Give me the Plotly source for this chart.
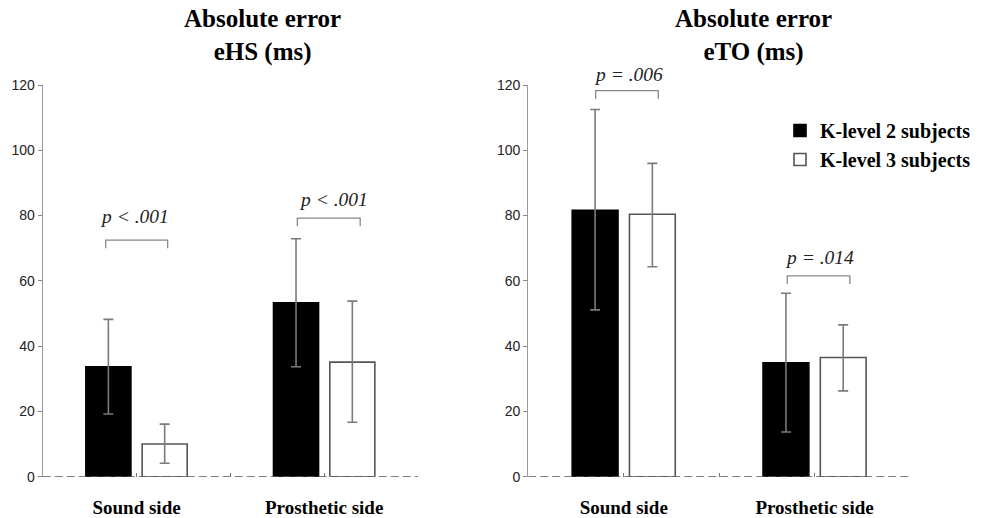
import numpy as np
import plotly.graph_objects as go

# ---------------- data ----------------
categories = ["Sound side", "Prosthetic side"]
series_names = ["K-level 2 subjects", "K-level 3 subjects"]

# eHS (left panel): mean, upper end of error bar, lower end of error bar
ehs_k2 = [33.7, 53.3]
ehs_k2_hi = [48.2, 72.9]
ehs_k2_lo = [19.2, 33.7]
ehs_k3 = [10.0, 35.1]
ehs_k3_hi = [16.1, 53.8]
ehs_k3_lo = [4.1, 16.7]

# eTO (right panel)
eto_k2 = [81.6, 34.9]
eto_k2_hi = [112.5, 56.2]
eto_k2_lo = [51.1, 13.7]
eto_k3 = [80.4, 36.5]
eto_k3_hi = [96.0, 46.5]
eto_k3_lo = [64.3, 26.3]

panel_titles = ["Absolute error<br>eHS (ms)", "Absolute error<br>eTO (ms)"]
y_ticks = [0, 20, 40, 60, 80, 100, 120]

# significance brackets: panel, x start, x end, bracket top, text, text y
brackets_panel = [1, 1, 2, 2]
brackets_x0 = [0.836, 1.857, 0.853, 1.857]
brackets_x1 = [1.166, 2.192, 1.181, 2.185]
brackets_top = [72.5, 79.2, 118.3, 61.5]
brackets_text = ["p < .001", "p < .001", "p = .006", "p = .014"]
brackets_text_x = [0.99, 2.049, 1.027, 2.028]
brackets_text_y = [79.6, 85.0, 123.3, 67.2]

# ---------------- figure ----------------
x_pos = [1, 2]
fig = go.Figure()

SERIF = "Liberation Serif"
SANS = "Liberation Sans"
ERR_COL = "#7a7a7a"

def add_bar(name, vals, hi, lo, xa, ya, fill, line, show):
    vals = np.array(vals)
    fig.add_trace(go.Bar(
        x=x_pos, y=vals, name=name, xaxis=xa, yaxis=ya,
        marker=dict(color=fill, line=dict(color=line, width=1.6)),
        error_y=dict(type="data", symmetric=False,
                     array=np.array(hi) - vals, arrayminus=vals - np.array(lo),
                     color=ERR_COL, thickness=1.6, width=5),
        showlegend=show, legendgroup=name, offsetgroup=name,
    ))

add_bar(series_names[0], ehs_k2, ehs_k2_hi, ehs_k2_lo, "x", "y", "black", "black", True)
add_bar(series_names[1], ehs_k3, ehs_k3_hi, ehs_k3_lo, "x", "y", "white", "#555555", True)
add_bar(series_names[0], eto_k2, eto_k2_hi, eto_k2_lo, "x2", "y2", "black", "black", False)
add_bar(series_names[1], eto_k3, eto_k3_hi, eto_k3_lo, "x2", "y2", "white", "#555555", False)

W, H = 986, 518
xdom = [[42.7 / W, 418 / W], [528.3 / W, 910 / W]]
ydom = [(H - 476.7) / H, (H - 85) / H]
Y_MAX = 120

xaxis_common = dict(
    range=[0.5, 2.5], tickvals=[1, 1.5, 2, 2.5],
    ticktext=["Sound side", "", "Prosthetic side", ""],
    ticks="inside", ticklen=4, tickcolor="#777777", tickwidth=1,
    showline=False, showgrid=False, zeroline=False, automargin=False,
    tickfont=dict(family=SERIF, size=19, color="black", weight="bold"),
    ticklabelstandoff=17, fixedrange=True,
)
yaxis_common = dict(
    range=[0, Y_MAX], tickvals=y_ticks, ticks="outside", ticklen=4,
    tickcolor="#888888", tickwidth=1.2,
    showline=True, linecolor="#999999", linewidth=1.3,
    showgrid=False, zeroline=False, automargin=False,
    tickfont=dict(family=SANS, size=14, color="#222222"), fixedrange=True,
)

fig.update_layout(
    width=W, height=H, margin=dict(l=0, r=0, t=0, b=0, autoexpand=False),
    paper_bgcolor="white", plot_bgcolor="white",
    barmode="group", bargap=0.4, bargroupgap=0.2,
    xaxis=dict(domain=xdom[0], anchor="y", **xaxis_common),
    yaxis=dict(domain=ydom, anchor="x", **yaxis_common),
    xaxis2=dict(domain=xdom[1], anchor="y2", **xaxis_common),
    yaxis2=dict(domain=ydom, anchor="x2", **yaxis_common),
    legend=dict(x=780 / W, y=(H - 111) / H, xanchor="left", yanchor="top",
                font=dict(family=SERIF, size=20, color="black", weight="bold"),
                bgcolor="rgba(0,0,0,0)", tracegroupgap=0, itemwidth=30),
    showlegend=True,
)

# dashed baseline at y = 0 in each panel
for xr, yr in [("x", "y"), ("x2", "y2")]:
    fig.add_shape(type="line", xref=xr, yref=yr, x0=0.5, x1=2.5, y0=0, y1=0,
                  line=dict(color="#555555", width=1.6, dash="8px,4px"), layer="above")

# panel titles
title_x = [262 / W, 753 / W]
for t, tx in zip(panel_titles, title_x):
    fig.add_annotation(text="<b>" + t + "</b>", xref="paper", yref="paper",
                       x=tx, y=(H - 36) / H, xanchor="center", yanchor="middle",
                       showarrow=False, font=dict(family=SERIF, size=25, color="black"))

# significance brackets
for p, x0, x1, yt, txt, tx, ty in zip(brackets_panel, brackets_x0, brackets_x1,
                                      brackets_top, brackets_text,
                                      brackets_text_x, brackets_text_y):
    xr = "x" if p == 1 else "x2"
    yr = "y" if p == 1 else "y2"
    drop = 2.5
    fig.add_shape(type="path", xref=xr, yref=yr,
                  path=f"M {x0},{yt - drop} L {x0},{yt} L {x1},{yt} L {x1},{yt - drop}",
                  line=dict(color="#888888", width=1.3))
    # text may sit above the axis range, so place it in the axis' domain frame
    fig.add_annotation(text="<i>" + txt + "</i>", xref=xr, yref=yr + " domain",
                       x=tx, y=ty / Y_MAX,
                       xanchor="center", yanchor="middle", showarrow=False,
                       font=dict(family=SERIF, size=19.5, color="#222222"))

fig.write_html("out.html")
